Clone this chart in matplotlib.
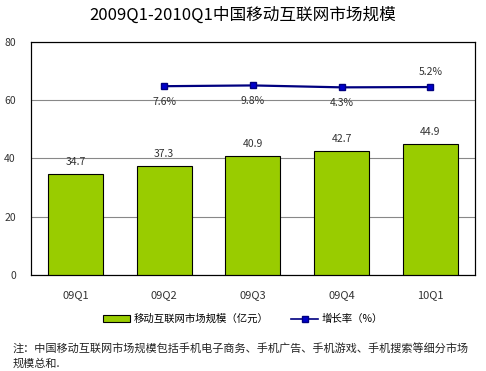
import matplotlib
matplotlib.use('Agg')
import matplotlib.pyplot as plt
from matplotlib.patches import Patch
from matplotlib.lines import Line2D

plt.rcParams['font.family'] = ['Noto Sans CJK SC', 'DejaVu Sans']

quarters = ['09Q1', '09Q2', '09Q3', '09Q4', '10Q1']
market = [34.7, 37.3, 40.9, 42.7, 44.9]
growth = [7.6, 9.8, 4.3, 5.2]          # growth rate (%) for 09Q2..10Q1
growth_labels = ['7.6%', '9.8%', '4.3%', '5.2%']

fig = plt.figure(figsize=(4.86, 3.71), dpi=100)
ax = fig.add_axes([0.064, 0.259, 0.913, 0.628])

x = list(range(len(quarters)))
ax.bar(x, market, width=0.62, color='#99CC00', edgecolor='black', linewidth=0.8, zorder=3)
for xi, v in zip(x, market):
    ax.text(xi, v + 2.4, f'{v}', ha='center', va='bottom', fontsize=7.5, color='#333333')

ax.set_ylim(0, 80)
ax.set_xlim(-0.5, 4.5)
ax.set_yticks([0, 20, 40, 60, 80])
ax.yaxis.grid(True, color='#888888', linewidth=0.8, zorder=0)
ax.tick_params(axis='both', length=0, labelsize=7.5, colors='#333333')
ax.tick_params(axis='x', pad=11)
ax.tick_params(axis='y', pad=11)
ax.set_xticks(x)
ax.set_xticklabels(quarters, fontsize=8)
for s in ax.spines.values():
    s.set_color('black')
    s.set_linewidth(0.8)

# growth rate on a hidden secondary scale
ax2 = ax.twinx()
ax2.set_ylim(-532.4, 134.3)
ax2.set_yticks([])
ax2.plot(x[1:], growth, color='#000080', linewidth=1.6, marker='s', markersize=5,
         markerfacecolor='#0000CC', markeredgecolor='#000080', zorder=4)
offsets = [-1, -1, -1, 1]
for xi, g, lab, o in zip(x[1:], growth, growth_labels, offsets):
    ax2.text(xi, g + o * 44, lab, ha='center', va='center', fontsize=7.5, color='#333333')

fig.text(0.5, 0.958, '2009Q1-2010Q1中国移动互联网市场规模', ha='center', va='center', fontsize=12)

handles = [Patch(facecolor='#99CC00', edgecolor='black', linewidth=0.8),
           Line2D([0], [0], color='#000080', linewidth=1.2, marker='s', markersize=5,
                  markerfacecolor='#0000CC', markeredgecolor='#000080')]
fig.legend(handles, ['移动互联网市场规模（亿元）', '增长率（%）'], loc='center',
           bbox_to_anchor=(0.5, 0.14), ncol=2, frameon=False, fontsize=7.5,
           handlelength=2.6, handleheight=0.7, columnspacing=2.2, handletextpad=0.3)

fig.text(0.025, 0.062, '注：中国移动互联网市场规模包括手机电子商务、手机广告、手机游戏、手机搜索等细分市场',
         fontsize=8, va='center', color='#222222')
fig.text(0.025, 0.02, '规模总和.', fontsize=8, va='center', color='#222222')

fig.savefig('out.png', dpi=100)
